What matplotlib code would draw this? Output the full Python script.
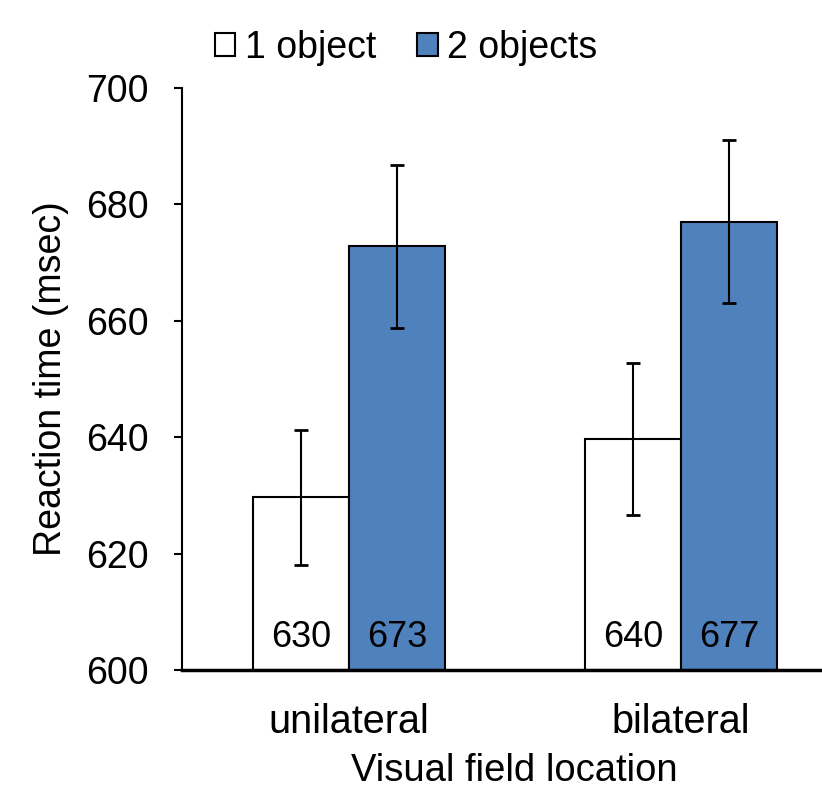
import matplotlib
matplotlib.use("Agg")
import matplotlib.pyplot as plt
import numpy as np
from matplotlib.patches import Patch

plt.rcParams['font.family'] = ['Liberation Sans', 'DejaVu Sans']

categories = ["unilateral", "bilateral"]
series_names = ["1 object", "2 objects"]
one_object = [629.7, 639.7]
two_objects = [672.8, 677.0]
one_err = [11.6, 13.0]
two_err = [14.0, 14.0]
bar_labels_one = ["630", "640"]
bar_labels_two = ["673", "677"]
yticks = [600, 620, 640, 660, 680, 700]

blue = "#4F81BD"
fig = plt.figure(figsize=(8.22, 7.91), dpi=100)
ax = fig.add_axes([182/822, 1-670/791, (822-182)/822, (670-88)/791])

x = np.arange(len(categories))
w = 0.29
ax.bar(x - w/2, np.array(one_object) - 600, w, bottom=600, color="white",
       edgecolor="black", linewidth=1.5, zorder=2)
ax.bar(x + w/2, np.array(two_objects) - 600, w, bottom=600, color=blue,
       edgecolor="black", linewidth=1.5, zorder=2)
ax.errorbar(x - w/2, one_object, yerr=one_err, fmt="none", ecolor="black",
            elinewidth=1.5, capsize=5, capthick=2, zorder=3)
ax.errorbar(x + w/2, two_objects, yerr=two_err, fmt="none", ecolor="black",
            elinewidth=1.5, capsize=5, capthick=2, zorder=3)
for i in range(len(categories)):
    ax.text(x[i] - w/2, 602.6, bar_labels_one[i], ha="center", va="bottom", fontsize=26)
    ax.text(x[i] + w/2, 602.6, bar_labels_two[i], ha="center", va="bottom", fontsize=26)

ax.set_ylim(600, 700)
ax.set_xlim(-0.503, 1.425)
ax.set_yticks(yticks)
ax.set_xticks(x)
ax.set_xticklabels(categories)
ax.tick_params(axis="y", labelsize=27, length=6, width=1.5, direction="out", pad=18)
ax.tick_params(axis="x", labelsize=28.5, length=0, pad=24)
for s in ["top", "right"]:
    ax.spines[s].set_visible(False)
ax.spines["left"].set_linewidth(1.5)
ax.spines["bottom"].set_linewidth(2.5)
ax.set_ylabel("Reaction time (msec)", fontsize=27, labelpad=12)
ax.set_xlabel("Visual field location", fontsize=27.5, labelpad=8)
ax.xaxis.set_label_coords(0.52, -0.143)

handles = [Patch(facecolor="white", edgecolor="black", linewidth=1.5),
           Patch(facecolor=blue, edgecolor="black", linewidth=1.5)]
fig.legend(handles, series_names, loc="center", bbox_to_anchor=(406/822, 1-48/791),
           ncol=2, frameon=False, fontsize=27, handlelength=0.55, handleheight=0.55,
           handletextpad=0.25, columnspacing=1.1)

fig.savefig("out.png", dpi=100)
